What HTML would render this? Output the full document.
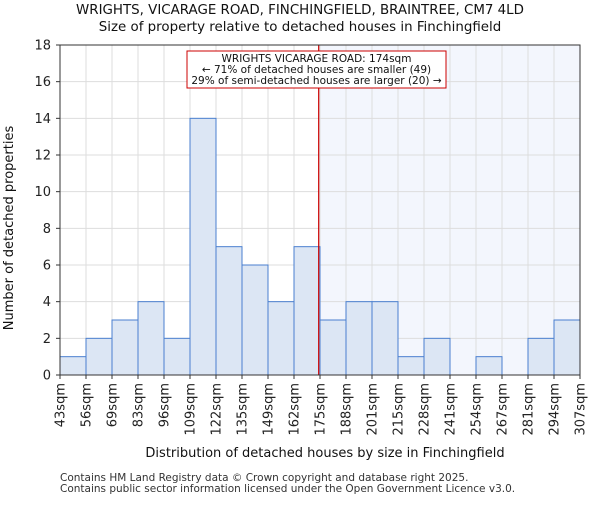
<!DOCTYPE html>
<html><head><meta charset="utf-8"><style>
body{margin:0;background:#fff;}
svg{font-family:"DejaVu Sans","Liberation Sans",sans-serif;}
</style></head><body>
<svg id="c" width="600" height="500" xmlns="http://www.w3.org/2000/svg"></svg>
<script>
const binLabels=["43sqm","56sqm","69sqm","83sqm","96sqm","109sqm","122sqm","135sqm","149sqm","162sqm","175sqm","188sqm","201sqm","215sqm","228sqm","241sqm","254sqm","267sqm","281sqm","294sqm","307sqm"];
const counts=[1,2,3,4,2,14,7,6,4,7,3,4,4,1,2,0,1,0,2,3];
const yTicks=[0,2,4,6,8,10,12,14,16,18];
const propertyBinPos=9.95;
const L=60,R=580,T=45,B=375,ymax=18;
const n=counts.length;
const xs=i=>L+(R-L)*i/n;
const ys=v=>B-(B-T)*v/ymax;
const svg=document.getElementById('c');
const NS="http://www.w3.org/2000/svg";
function mk(t,a,p){const e=document.createElementNS(NS,t);for(const k in a)e.setAttribute(k,a[k]);(p||svg).appendChild(e);return e;}
const px=xs(propertyBinPos);
let e=mk('rect',{x:px,y:T,width:R-px,height:B-T,fill:'#f3f6fd'});

for(let i=0;i<=n;i++){e=mk('line',{x1:xs(i),x2:xs(i),y1:T,y2:B,stroke:'#dddddd','stroke-width':1});
}
yTicks.forEach(v=>{e=mk('line',{x1:L,x2:R,y1:ys(v),y2:ys(v),stroke:'#dddddd','stroke-width':1});
});
counts.forEach((v,i)=>{if(v<=0)return;e=mk('rect',{x:xs(i),y:ys(v),width:xs(i+1)-xs(i),height:B-ys(v),fill:'#dce6f4',stroke:'#4a7fcf','stroke-width':1});
});
e=mk('line',{x1:px,x2:px,y1:T,y2:B,stroke:'#cc0000','stroke-width':1.2});

e=mk('rect',{x:L,y:T,width:R-L,height:B-T,fill:'none',stroke:'#333','stroke-width':1});

yTicks.forEach(v=>{mk('line',{x1:L-4,x2:L,y1:ys(v),y2:ys(v),stroke:'#333'});
e=mk('text',{x:L-9,y:ys(v)+4.5,'text-anchor':'end','font-size':13,fill:'#222'});e.textContent=v;
});
binLabels.forEach((l,i)=>{const x=xs(i);mk('line',{x1:x,x2:x,y1:B,y2:B+4,stroke:'#333'});
e=mk('text',{x:x+4.5,y:B+8,'text-anchor':'end','font-size':13,fill:'#222',transform:`rotate(-90 ${x+4.5} ${B+8})`});e.textContent=l;
});
e=mk('rect',{x:187,y:51,width:259,height:37,fill:'#fff',stroke:'#cc0000','stroke-width':1});

["WRIGHTS VICARAGE ROAD: 174sqm","← 71% of detached houses are smaller (49)","29% of semi-detached houses are larger (20) →"].forEach((t,i)=>{
e=mk('text',{x:316.5,y:62+i*11,'text-anchor':'middle','font-size':10.5,fill:'#111'});e.textContent=t;
});
function txt(t,a,name){e=mk('text',a);e.textContent=t;}
txt("WRIGHTS, VICARAGE ROAD, FINCHINGFIELD, BRAINTREE, CM7 4LD",{x:300,y:14,'text-anchor':'middle','font-size':13.4,fill:'#111'},'chart-title');
txt("Size of property relative to detached houses in Finchingfield",{x:300,y:31,'text-anchor':'middle','font-size':13.4,fill:'#111'},'chart-subtitle');
txt("Distribution of detached houses by size in Finchingfield",{x:325,y:457,'text-anchor':'middle','font-size':13,fill:'#111'},'x-axis-title');
txt("Number of detached properties",{x:13,y:228,'text-anchor':'middle','font-size':13,fill:'#111',transform:'rotate(-90 13 228)'},'y-axis-title');
txt("Contains HM Land Registry data © Crown copyright and database right 2025.",{x:60,y:481,'font-size':10.5,fill:'#333'},'footer-line-1');
txt("Contains public sector information licensed under the Open Government Licence v3.0.",{x:60,y:492,'font-size':10.5,fill:'#333'},'footer-line-2');
</script>
</body></html>
